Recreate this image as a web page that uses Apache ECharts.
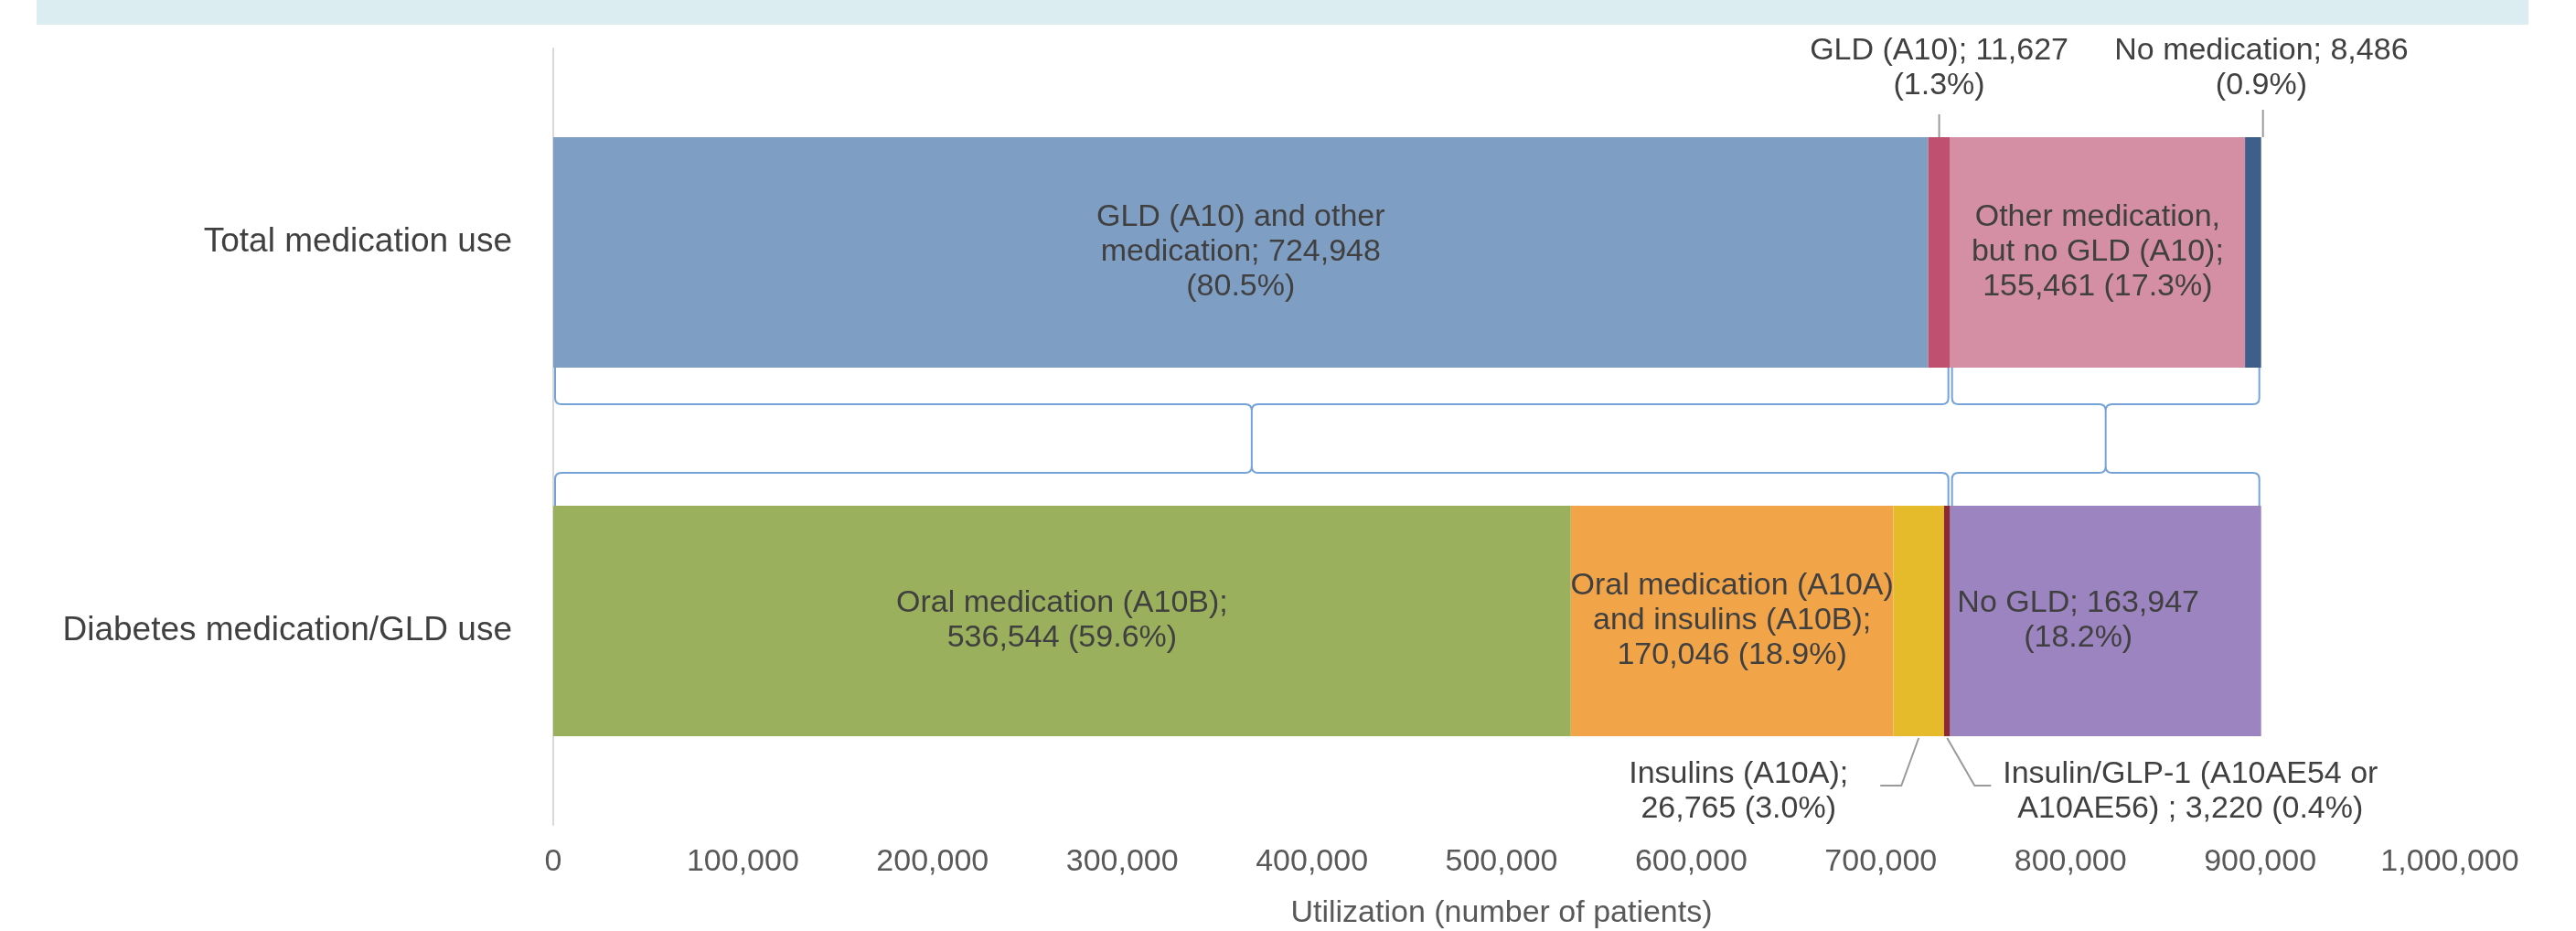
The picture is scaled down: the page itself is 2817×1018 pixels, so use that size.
<!DOCTYPE html>
<html>
<head>
<meta charset="utf-8">
<script src="https://cdn.jsdelivr.net/npm/echarts@6/dist/echarts.min.js"></script>
<style>
  html, body { margin: 0; padding: 0; background: #ffffff; }
  #chart { width: 2817px; height: 1018px; }
</style>
</head>
<body>
<div id="chart"></div>
<script>
// ---------------- data ----------------
const categories = ['Total medication use', 'Diabetes medication/GLD use'];

const totalNames = ['GLD (A10) and other medication', 'GLD (A10)', 'Other medication, but no GLD (A10)', 'No medication'];
const totalValues = [724948, 11627, 155461, 8486];
const totalLabelText = [
  'GLD (A10) and other\nmedication; {v}\n({p})',
  'GLD (A10); {v}\n({p})',
  'Other medication,\nbut no GLD (A10);\n{v} ({p})',
  'No medication; {v}\n({p})'
];

const gldNames = ['Oral medication (A10B)', 'Oral medication (A10A) and insulins (A10B)', 'Insulins (A10A)', 'Insulin/GLP-1 (A10AE54 or A10AE56)', 'No GLD'];
const gldValues = [536544, 170046, 26765, 3220, 163947];
const gldLabelText = [
  'Oral medication (A10B);\n{v} ({p})',
  'Oral medication (A10A)\nand insulins (A10B);\n{v} ({p})',
  'Insulins (A10A);\n{v} ({p})',
  'Insulin/GLP-1 (A10AE54 or\nA10AE56) ; {v} ({p})',
  'No GLD; {v}\n({p})'
];

const xMin = 0, xMax = 1000000, xStep = 100000;
const xAxisTitle = 'Utilization (number of patients)';

// ---------------- styles ----------------
const FONT = "'Liberation Sans', Arial, Helvetica, sans-serif";
const totalColors = ['#7f9ec4', '#c0506f', '#d48fa4', '#3e5f8a'];
const gldColors = ['#9bb05c', '#f2a449', '#e5bb2c', '#8a2a37', '#9b84bf'];
const totalLabelPos = [
  { position: 'inside' },
  { position: 'top', distance: 37 },
  { position: 'inside' },
  { position: 'top', distance: 37, offset: [9, 0] }
];
const gldLabelPos = [
  { position: 'inside' },
  { position: 'inside' },
  { position: 'bottom', distance: 23, offset: [-197, 0] },
  { position: 'bottom', distance: 23, offset: [266, 0] },
  { position: 'inside', offset: [-30, 0] }
];
const BAR_H = 252;
const GRID_L = 605, GRID_R = 138;

// ---------------- helpers ----------------
const sum = a => a.reduce((s, v) => s + v, 0);
const grandTotal = sum(totalValues);
const fmtNum = v => v.toLocaleString('en-US');
const fmtPct = v => (v / grandTotal * 100).toFixed(1) + '%';
const cumulative = arr => { const out = [0]; arr.forEach(v => out.push(out[out.length - 1] + v)); return out; };
const totalCum = cumulative(totalValues);
const gldCum = cumulative(gldValues);

function makeBar(name, value, catIndex, color, text, pos) {
  const data = categories.map((c, i) => i === catIndex ? value : '-');
  return {
    type: 'bar', name: name, stack: 'all', xAxisIndex: 1, yAxisIndex: 1,
    barWidth: BAR_H, data: data,
    itemStyle: { color: color },
    label: Object.assign({
      show: true, color: '#404040', fontSize: 34, lineHeight: 38, fontFamily: FONT, align: 'center',
      formatter: () => text.replace('{v}', fmtNum(value)).replace('{p}', fmtPct(value))
    }, pos),
    emphasis: { disabled: true }
  };
}

const series = [];
totalValues.forEach((v, i) => series.push(makeBar(totalNames[i], v, 0, totalColors[i], totalLabelText[i], totalLabelPos[i])));
gldValues.forEach((v, i) => series.push(makeBar(gldNames[i], v, 1, gldColors[i], gldLabelText[i], gldLabelPos[i])));

// braces: GLD group and non-GLD group (from cumulative sums)
const gldGroupEnd = totalCum[2];
const braceData = [[0, gldGroupEnd, 0], [gldGroupEnd, grandTotal, 0]];
series.push({
  type: 'custom', xAxisIndex: 1, yAxisIndex: 1, silent: true, clip: false, z: 5,
  encode: { x: [0, 1], y: 2 },
  data: braceData,
  renderItem: function (params, api) {
    const a = api.coord([api.value(0), 0]);
    const b = api.coord([api.value(1), 0]);
    const c1 = api.coord([0, 1]);
    const half = BAR_H / 2;
    const yA = a[1] + half;        // bottom edge of top bar
    const yB = c1[1] - half;       // top edge of bottom bar
    const y1 = yA + 40, y2 = yB - 36;
    const xa = a[0] + 2, xb = b[0] - 2, m = (xa + xb) / 2, r = 7;
    const d =
      `M${xa},${yA} L${xa},${y1 - r} Q${xa},${y1} ${xa + r},${y1} L${m - r},${y1} Q${m},${y1} ${m},${y1 + r} ` +
      `L${m},${y2 - r} Q${m},${y2} ${m - r},${y2} L${xa + r},${y2} Q${xa},${y2} ${xa},${y2 + r} L${xa},${yB} ` +
      `M${xb},${yA} L${xb},${y1 - r} Q${xb},${y1} ${xb - r},${y1} L${m + r},${y1} Q${m},${y1} ${m},${y1 + r} ` +
      `M${m},${y2 - r} Q${m},${y2} ${m + r},${y2} L${xb - r},${y2} Q${xb},${y2} ${xb},${y2 + r} L${xb},${yB}`;
    return { type: 'path', shape: { pathData: d }, style: { fill: null, stroke: '#75a3d8', lineWidth: 2 } };
  }
});

// leader lines for the small segments (anchors from cumulative sums)
const leaderData = [
  [totalCum[1], totalCum[2], 0, 0],
  [totalCum[3], totalCum[4], 0, 1],
  [gldCum[2], gldCum[3], 1, 2],
  [gldCum[3], gldCum[4], 1, 3]
];
series.push({
  type: 'custom', xAxisIndex: 1, yAxisIndex: 1, silent: true, clip: false, z: 5,
  encode: { x: [0, 1], y: 2 },
  data: leaderData,
  renderItem: function (params, api) {
    const cat = api.value(2), kind = api.value(3);
    const s = api.coord([api.value(0), cat]);
    const e = api.coord([api.value(1), cat]);
    const xc = (s[0] + e[0]) / 2;
    const yt = s[1] - BAR_H / 2, yb = s[1] + BAR_H / 2;
    let pts;
    if (kind === 0) pts = [[xc, yt], [xc, yt - 25]];
    else if (kind === 1) pts = [[e[0] + 2, yt], [e[0] + 2, yt - 30]];
    else if (kind === 2) pts = [[xc, yb + 2], [xc - 19, yb + 54], [xc - 42, yb + 54]];
    else pts = [[xc, yb + 2], [xc + 30, yb + 54], [xc + 48, yb + 54]];
    return { type: 'polyline', shape: { points: pts }, style: { fill: null, stroke: '#9a9a9a', lineWidth: 2 } };
  }
});

const chart = echarts.init(document.getElementById('chart'));
chart.setOption({
  animation: false,
  backgroundColor: '#ffffff',
  graphic: [{ type: 'rect', left: 40, top: 0, shape: { width: 2725, height: 27 }, style: { fill: '#dbedf1' }, silent: true, z: -10 }],
  grid: [
    { left: GRID_L, right: GRID_R, top: 53, bottom: 116, containLabel: false, outerBoundsMode: 'none' },
    { left: GRID_L, right: GRID_R, top: 74.5, bottom: 137.5, containLabel: false, outerBoundsMode: 'none' }
  ],
  xAxis: [
    {
      gridIndex: 0, type: 'value', min: xMin, max: xMax, interval: xStep,
      axisLine: { show: false }, axisTick: { show: false }, splitLine: { show: false },
      axisLabel: { fontSize: 34, color: '#595959', margin: 24, fontFamily: FONT, formatter: v => fmtNum(v) },
      name: xAxisTitle, nameLocation: 'middle', nameGap: 80,
      nameTextStyle: { fontSize: 34, color: '#595959', fontFamily: FONT }
    },
    { gridIndex: 1, type: 'value', min: xMin, max: xMax, interval: xStep, show: false }
  ],
  yAxis: [
    {
      gridIndex: 0, type: 'category', data: categories, inverse: true,
      axisLine: { show: true, lineStyle: { color: '#d9d9d9', width: 2 } },
      axisTick: { show: false }, splitLine: { show: false },
      axisLabel: { fontSize: 37, color: '#404040', margin: 45, fontFamily: FONT }
    },
    { gridIndex: 1, type: 'category', data: categories, inverse: true, show: false }
  ],
  series: series
});
</script>
</body>
</html>
